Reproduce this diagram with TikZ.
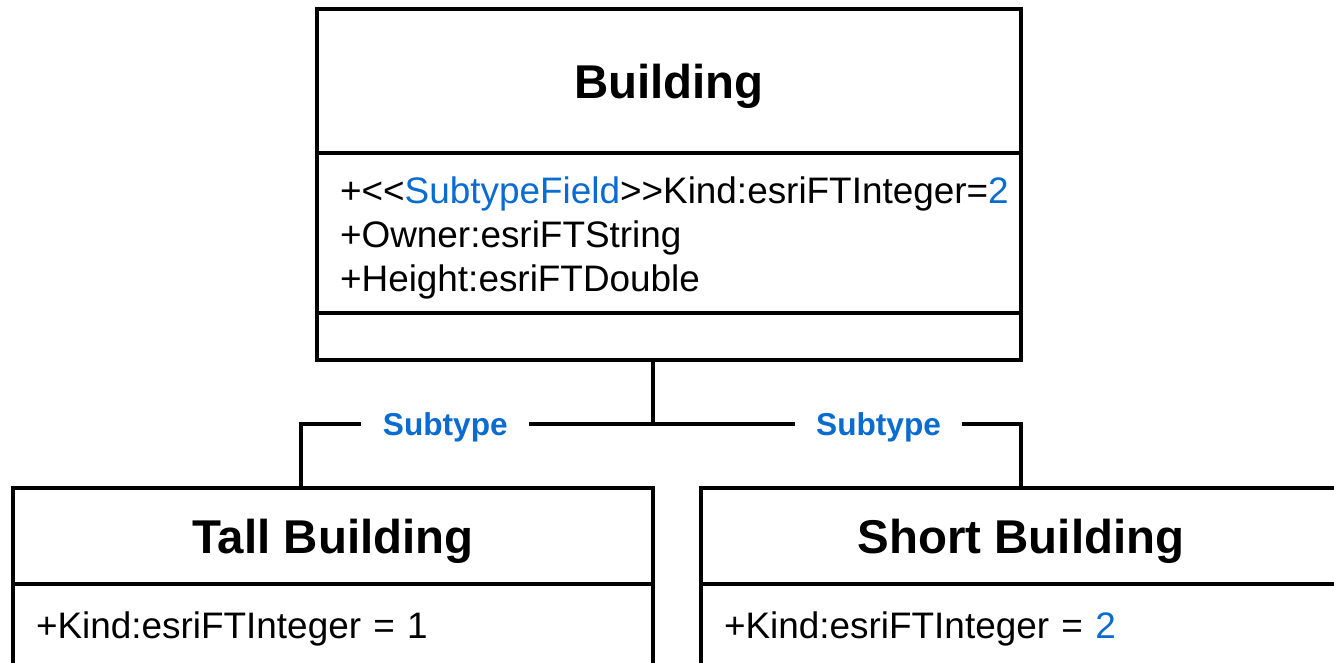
\documentclass[tikz,border=0pt]{standalone}
\usepackage{fontspec}
\setmainfont{Liberation Sans}
\usepackage{xcolor}
\usetikzlibrary{positioning}

\definecolor{esriblue}{HTML}{0A6CD0}

\tikzset{
    classbox/.style={draw, line width=2.2pt, rectangle, outer sep=0pt, inner sep=0pt},
    headbox/.style={classbox, text depth=0pt, font=\fontsize{27}{32}\selectfont\bfseries},
    attrbox/.style={classbox, font=\fontsize{21}{25.2}\selectfont, align=left, inner xsep=0.46cm},
    sublabel/.style={fill=white, text=esriblue, text depth=0pt, inner xsep=0.43cm, inner ysep=2pt, font=\fontsize{18}{21}\selectfont\bfseries},
    conn/.style={line width=2.2pt}
}

\begin{document}
\begin{tikzpicture}[x=0.02cm, y=0.02cm]
    \useasboundingbox (0,0) rectangle (1334,662);
    \clip (0,0) rectangle (1334,662);

    % parent class
    \node (bldg) [headbox, minimum width=14.08cm, minimum height=2.88cm] at (669,581) {Building};
    \node (bldgattr) [attrbox, text height=21pt, minimum width=14.08cm, minimum height=3.2cm, text width=13.16cm, below=0pt of bldg] {+{<}{<}\textcolor{esriblue}{SubtypeField}{>}{>}Kind:esriFTInteger=\textcolor{esriblue}{2}\\+Owner:esriFTString\\+Height:esriFTDouble};
    \node (bldgops) [classbox, minimum width=14.08cm, minimum height=0.94cm, below=0pt of bldgattr] {};

    % subtypes
    \node (tall) [headbox, minimum width=12.8cm, minimum height=1.92cm] at (333,126) {Tall Building};
    \node (tallattr) [attrbox, minimum width=12.8cm, minimum height=1.8cm, text width=11.88cm, below=0pt of tall] {+Kind:esriFTInteger = 1};
    \node (short) [headbox, minimum width=12.8cm, minimum height=1.92cm] at (1021,126) {Short Building};
    \node (shortattr) [attrbox, minimum width=12.8cm, minimum height=1.8cm, text width=11.88cm, below=0pt of short] {+Kind:esriFTInteger = \textcolor{esriblue}{2}};

    % connectors
    \coordinate (bus) at (653,238);
    \coordinate (tallhook) at (301,238);
    \coordinate (shorthook) at (1021,238);
    \draw [conn] (bus |- bldgops.south) -- (bus);
    \draw [conn] (tallhook |- tall.north) -- (tallhook) -- node[sublabel, pos=0.41] (tallsub) {Subtype} (bus);
    \draw [conn] (bus) -- node[sublabel, pos=0.613] (shortsub) {Subtype} (shorthook) -- (short.north);
\end{tikzpicture}
\end{document}
